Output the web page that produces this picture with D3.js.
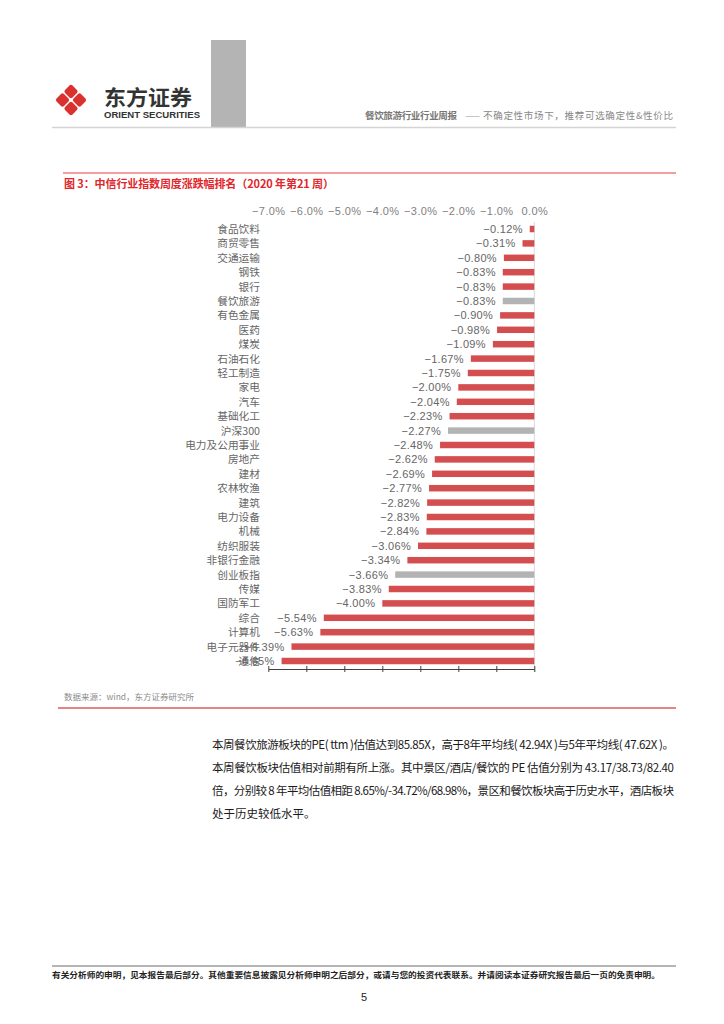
<!DOCTYPE html>
<html><head><meta charset="utf-8">
<script src="https://cdn.jsdelivr.net/npm/d3@7/dist/d3.min.js"></script>
<style>
body{margin:0;background:#fff;}
svg{display:block;}
</style></head>
<body>
<script>
const categories = ["食品饮料","商贸零售","交通运输","钢铁","银行","餐饮旅游","有色金属","医药","煤炭","石油石化","轻工制造","家电","汽车","基础化工","沪深300","电力及公用事业","房地产","建材","农林牧渔","建筑","电力设备","机械","纺织服装","非银行金融","创业板指","传媒","国防军工","综合","计算机","电子元器件","通信"];
const values = [-0.12,-0.31,-0.80,-0.83,-0.83,-0.83,-0.90,-0.98,-1.09,-1.67,-1.75,-2.00,-2.04,-2.23,-2.27,-2.48,-2.62,-2.69,-2.77,-2.82,-2.83,-2.84,-3.06,-3.34,-3.66,-3.83,-4.00,-5.54,-5.63,-6.39,-6.65];
const highlighted = ["餐饮旅游","沪深300","创业板指"];
const tickValues = [-7,-6,-5,-4,-3,-2,-1,0];
const tickLabels = ["−7.0%","−6.0%","−5.0%","−4.0%","−3.0%","−2.0%","−1.0%","0.0%"];

const titleText = "图 3：中信行业指数周度涨跌幅排名（2020 年第21 周）";
const sourceText = "数据来源：wind，东方证券研究所";
const bodyLines = [
 "本周餐饮旅游板块的PE( ttm )估值达到85.85X，高于8年平均线( 42.94X )与5年平均线( 47.62X )。",
 "本周餐饮板块估值相对前期有所上涨。其中景区/酒店/餐饮的 PE 估值分别为 43.17/38.73/82.40",
 "倍，分别较 8 年平均估值相距 8.65%/-34.72%/68.98%，景区和餐饮板块高于历史水平，酒店板块",
 "处于历史较低水平。"
];
const footerText = "有关分析师的申明，见本报告最后部分。其他重要信息披露见分析师申明之后部分，或请与您的投资代表联系。并请阅读本证券研究报告最后一页的免责申明。";

const data = categories.map((c,i)=>({cat:c, val:values[i]}));
const CJK = "'Noto Sans CJK SC','Noto Sans',sans-serif";
const LAT = "'Liberation Sans',Arial,sans-serif";

const svg = d3.select("body").append("svg").attr("width",724).attr("height",1024);
svg.append("rect").attr("width",724).attr("height",1024).attr("fill","#fff");

// ---- header ----
svg.append("rect").attr("x",211).attr("y",40).attr("width",35).attr("height",87).attr("fill","#b4b4b4");
svg.append("line").attr("x1",52).attr("x2",676).attr("y1",127.5).attr("y2",127.5).attr("stroke","#d4d4d4").attr("stroke-width",1.5);
const logo = svg.append("g").attr("transform","translate(71,100)");
[[0,-8.5],[0,8.5],[-8.5,0],[8.5,0]].forEach(([dx,dy])=>{
  logo.append("rect").attr("x",-5.3).attr("y",-5.3).attr("width",10.6).attr("height",10.6).attr("rx",2.2)
    .attr("transform",`translate(${dx},${dy}) rotate(45)`).attr("fill","#d9322e");
});
svg.append("text").attr("x",104).attr("y",105).attr("font-family",CJK).attr("font-weight","bold")
  .attr("font-size",21).attr("fill","#333").attr("textLength",88).attr("lengthAdjust","spacingAndGlyphs").text("东方证券");
svg.append("text").attr("x",104).attr("y",117.5).attr("font-family",LAT).attr("font-weight","bold")
  .attr("font-size",8.5).attr("fill","#333").attr("textLength",96).attr("lengthAdjust","spacingAndGlyphs").text("ORIENT SECURITIES");
svg.append("text").attr("x",365).attr("y",119).attr("font-family",CJK).attr("font-weight","bold")
  .attr("font-size",9.5).attr("fill","#777").attr("textLength",92).text("餐饮旅游行业行业周报");
svg.append("text").attr("x",465).attr("y",119).attr("font-family",CJK)
  .attr("font-size",9.5).attr("fill","#999").attr("textLength",15).attr("lengthAdjust","spacingAndGlyphs").text("——");
svg.append("text").attr("x",483).attr("y",119).attr("font-family",CJK)
  .attr("font-size",9.5).attr("fill","#888").attr("textLength",190).text("不确定性市场下，推荐可选确定性&性价比");

// ---- title ----
svg.append("line").attr("x1",63).attr("x2",676).attr("y1",173).attr("y2",173).attr("stroke","#e04040").attr("stroke-width",1);
svg.append("text").attr("x",64).attr("y",187.5).attr("font-family",CJK).attr("font-weight","bold")
  .attr("font-size",11).attr("fill","#e0262b").attr("textLength",270).text(titleText);

// ---- chart ----
const x = d3.scaleLinear().domain([-7,0]).range([268.3,534.3]);
const y = d3.scaleBand().domain(categories).range([221.8,668.2]).paddingInner(0.55).paddingOuter(0.275);

svg.append("line").attr("x1",x(0)).attr("x2",x(0)).attr("y1",222).attr("y2",672).attr("stroke","#d9d9d9").attr("stroke-width",1);

const topAxis = svg.append("g").attr("transform","translate(0,215)")
  .call(d3.axisTop(x).tickValues(tickValues).tickSize(0).tickPadding(0).tickFormat((d,i)=>tickLabels[i]));
topAxis.select(".domain").remove();
topAxis.selectAll("text").attr("font-family",LAT).attr("font-size",11).attr("fill","#7f7f7f")
  .attr("letter-spacing","0.4px").attr("dy",0);

svg.selectAll("rect.bar").data(data).enter().append("rect").attr("class","bar")
  .attr("x",d=>x(d.val)).attr("width",d=>x(0)-x(d.val))
  .attr("y",d=>y(d.cat)).attr("height",y.bandwidth())
  .attr("fill",d=>highlighted.includes(d.cat)?"#b3b3b3":"#d44d4f");

const botAxis = svg.append("g").attr("transform","translate(0,669)")
  .call(d3.axisBottom(x).tickValues(tickValues).tickSizeInner(3).tickSizeOuter(0).tickFormat(""));
botAxis.select(".domain").attr("stroke","#404040");
botAxis.selectAll(".tick line").attr("y1",-3).attr("stroke","#404040");

svg.selectAll("text.cat").data(data).enter().append("text").attr("class","cat")
  .attr("x",260).attr("y",d=>y(d.cat)+y.bandwidth()/2+4)
  .attr("text-anchor","end").attr("font-family",CJK).attr("font-size",10.7).attr("fill","#666")
  .text(d=>d.cat);

const fmt = d3.format(".2f");
svg.selectAll("text.val").data(data).enter().append("text").attr("class","val")
  .attr("x",d=>x(d.val)-7).attr("y",d=>y(d.cat)+y.bandwidth()/2+4)
  .attr("text-anchor","end").attr("font-family",LAT).attr("font-size",11).attr("letter-spacing","0.3px")
  .attr("fill","#666").text(d=>fmt(d.val)+"%");

// ---- source ----
svg.append("text").attr("x",64).attr("y",700).attr("font-family",CJK).attr("font-size",8.5).attr("fill","#8c8c8c").text(sourceText);
svg.append("line").attr("x1",58).attr("x2",676).attr("y1",708).attr("y2",708).attr("stroke","#e05a5a").attr("stroke-width",1.5);

// ---- body ----
svg.selectAll("text.body").data(bodyLines).enter().append("text").attr("class","body")
  .attr("x",212).attr("y",(d,i)=>749+i*23).attr("font-family",CJK).attr("font-size",11.5).attr("fill","#1a1a1a")
  .each(function(d,i){ if(i<3) d3.select(this).attr("textLength",462).attr("lengthAdjust","spacing"); })
  .text(d=>d);

// ---- footer ----
svg.append("line").attr("x1",52).attr("x2",676).attr("y1",966).attr("y2",966).attr("stroke","#444").attr("stroke-width",0.8);
svg.append("text").attr("x",52).attr("y",978).attr("font-family",CJK).attr("font-weight","bold").attr("font-size",8)
  .attr("fill","#222").attr("textLength",608).attr("lengthAdjust","spacingAndGlyphs").text(footerText);
svg.append("text").attr("x",364).attr("y",1001).attr("text-anchor","middle").attr("font-family",LAT).attr("font-size",11).attr("fill","#222").text("5");
</script>
</body></html>
